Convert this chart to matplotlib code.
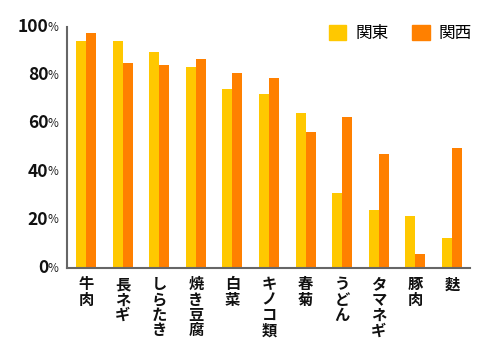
import numpy as np
import matplotlib
matplotlib.use("Agg")
import matplotlib.pyplot as plt
from matplotlib.patches import Patch

plt.rcParams["font.family"] = ["Noto Sans CJK JP", "DejaVu Sans"]

categories = ["牛肉", "長ネギ", "しらたき", "焼き豆腐", "白菜", "キノコ類",
              "春菊", "うどん", "タマネギ", "豚肉", "麩"]
kanto = [94.2, 94.2, 89.6, 83.4, 74.1, 72.1, 64.2, 31.0, 24.1, 21.6, 12.4]
kansai = [97.6, 84.9, 84.4, 86.9, 81.0, 78.7, 56.3, 62.7, 47.4, 5.9, 49.8]
series_names = ["関東", "関西"]
yticks = [0, 20, 40, 60, 80, 100]

YELLOW = "#FFC800"
ORANGE = "#FF8000"

fig = plt.figure(figsize=(4.9, 3.59), dpi=100)
ax = fig.add_axes([67 / 490, 1 - 268 / 359, (470 - 67) / 490, (268 - 27) / 359])

x = np.arange(len(categories))
w = 0.273
ax.bar(x - w / 2, kanto, width=w, color=YELLOW, linewidth=0)
ax.bar(x + w / 2, kansai, width=w, color=ORANGE, linewidth=0)

ax.set_xlim(-0.52, 10.49)
ax.set_ylim(0, 100)

for s in ["top", "right"]:
    ax.spines[s].set_visible(False)
for s in ["left", "bottom"]:
    ax.spines[s].set_color("#666666")
    ax.spines[s].set_linewidth(1.5)

ax.set_xticks([])
ax.set_yticks([])

# y labels: bold number + smaller percent sign
for t in yticks:
    ax.annotate("%", xy=(0, t), xycoords=("axes fraction", "data"),
                xytext=(-6, 0), textcoords="offset points",
                ha="right", va="center", fontsize=8.5, color="#222222")
    ax.annotate(str(t), xy=(0, t), xycoords=("axes fraction", "data"),
                xytext=(-13.5, 0), textcoords="offset points",
                ha="right", va="center", fontsize=12.5, fontweight="bold",
                color="#111111")

# vertical category labels
for i, c in enumerate(categories):
    ax.annotate("\n".join(c), xy=(i, 0), xycoords=("data", "data"),
                xytext=(0, -6), textcoords="offset points",
                ha="center", va="top", fontsize=11, fontweight="bold",
                linespacing=0.95, color="#111111")

handles = [Patch(color=YELLOW), Patch(color=ORANGE)]
ax.legend(handles, series_names, ncol=2, frameon=False, loc="upper right",
          bbox_to_anchor=(472 / 490, 1 - 25 / 359), bbox_transform=fig.transFigure,
          fontsize=12, handlelength=1.05, handleheight=1.05, handletextpad=0.55,
          columnspacing=1.4, borderpad=0, borderaxespad=0)

fig.savefig("out.png", dpi=100)
